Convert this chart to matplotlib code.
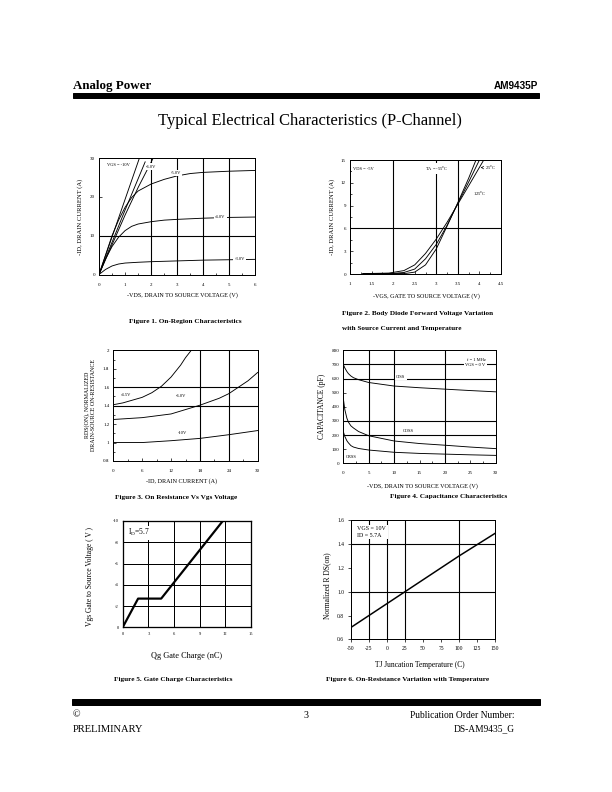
import numpy as np
import matplotlib
matplotlib.use("Agg")
import matplotlib.pyplot as plt
from matplotlib.ticker import MultipleLocator, FormatStrFormatter

plt.rcParams['font.family'] = ['Liberation Serif', 'DejaVu Serif']
plt.rcParams['mathtext.fontset'] = 'custom'
plt.rcParams['mathtext.rm'] = 'Liberation Serif'
plt.rcParams['axes.linewidth'] = 1.0
plt.rcParams['axes.unicode_minus'] = False

# ---- data ----
# Fig 1: on-region
vds = [0, 0.25, 0.5, 0.75, 1, 1.25, 1.5, 2, 2.5, 3, 3.5, 4, 5, 6]
id_3v = [0, 1.3, 2.2, 2.7, 2.95, 3.05, 3.15, 3.3, 3.4, 3.5, 3.6, 3.7, 3.8, 3.9]
id_4v = [0, 4, 7.2, 9.6, 11.3, 12.4, 13.0, 13.6, 14.0, 14.2, 14.35, 14.5, 14.7, 14.8]
id_5v = [0, 5, 10, 14, 17.3, 19.8, 21.5, 23.3, 24.5, 25.4, 26.0, 26.3, 26.6, 26.8]
vds_10v = [0, 1.55]
id_10v = [0, 30]
vds_8v = [0, 1.0, 1.77]
id_8v = [0, 16.6, 29.0]
vds_6v = [0, 1.0, 1.5, 2.08]
id_6v = [0, 15.3, 22.4, 30]

# Fig 2: transfer
vgs_m55 = [1.3, 2.0, 2.3, 2.5, 2.75, 3.0, 3.25, 3.5, 3.75, 3.92]
id_m55 = [0.05, 0.05, 0.08, 0.25, 1.2, 3.3, 6.3, 9.4, 12.6, 15]
vgs_25 = [1.3, 2.0, 2.25, 2.5, 2.75, 3.0, 3.25, 3.5, 3.75, 4.0]
id_25 = [0.05, 0.08, 0.2, 0.65, 2.0, 3.9, 6.4, 9.3, 12.1, 15]
vgs_125 = [1.3, 1.9, 2.25, 2.5, 2.75, 3.0, 3.25, 3.5, 3.75, 4.1]
id_125 = [0.05, 0.12, 0.45, 1.2, 2.7, 4.6, 6.8, 9.2, 11.6, 15]

# Fig 3: normalized on-resistance vs drain current
id_45 = [0, 2, 4, 6, 8, 10, 12, 14, 15, 16.2]
r_45 = [1.41, 1.43, 1.46, 1.49, 1.54, 1.61, 1.71, 1.84, 1.92, 2.0]
id_60 = [0, 6, 12, 18, 22, 24, 26, 28, 30]
r_60 = [1.25, 1.27, 1.31, 1.405, 1.48, 1.53, 1.6, 1.67, 1.76]
id_100 = [0, 6, 12, 18, 24, 30]
r_100 = [1.0, 1.0, 1.02, 1.045, 1.085, 1.13]

# Fig 4: capacitance
vds_c = [0, 0.3, 0.7, 1, 1.5, 2, 3, 5, 10, 15, 20, 25, 30]
ciss = [700, 675, 650, 635, 618, 606, 592, 572, 547, 535, 525, 515, 506]
coss = [460, 380, 320, 292, 265, 250, 225, 195, 158, 140, 128, 115, 104]
crss = [225, 190, 160, 145, 125, 115, 105, 94, 78, 70, 65, 60, 56]

# Fig 5: gate charge
qg = [0, 1.8, 4.5, 11.7]
vgs_q = [0, -2.7, -2.7, -10]

# Fig 6: on-resistance vs temperature
tj = [-50, 0, 25, 100, 150]
rds_t = [0.7, 0.9, 1.0, 1.3, 1.49]

W, H = 612, 792
fig = plt.figure(figsize=(W / 72, H / 72), dpi=72)


def add_ax(l, t, r, b):
    return fig.add_axes([l / W, 1 - b / H, (r - l) / W, (b - t) / H])


def ftext(x, y, s, **kw):
    kw.setdefault('ha', 'center')
    kw.setdefault('va', 'center')
    fig.text(x / W, 1 - y / H, s, **kw)


def style(ax, size=5, direction='in', xpad=8, ypad=4):
    ax.tick_params(which='both', direction=direction, width=0.7, labelsize=size)
    ax.tick_params(axis='x', pad=xpad)
    ax.tick_params(axis='y', pad=ypad)
    ax.tick_params(which='major', length=3)
    ax.tick_params(which='minor', length=2)


def label(ax, x, y, s, size=5, **kw):
    ax.text(x, y, s, fontsize=size, ha='center', va='center', zorder=5,
            bbox=dict(facecolor='white', edgecolor='none', pad=1.2), **kw)


GL = 1.1
box = dict(facecolor='white', edgecolor='none', pad=1.2)
CAP = 7.3
XL = 6.1
YL = 6.6

# ---- header ----
ftext(73, 86, 'Analog Power', ha='left', fontsize=13, fontweight='bold')
ftext(538, 86, 'AM9435P', ha='right', fontsize=10, fontweight='bold', family='Liberation Sans')
fig.patches.append(plt.Rectangle((73 / W, 1 - 97.5 / H), 466 / W, 5 / H,
                                 transform=fig.transFigure, color='black'))
ftext(310, 121, 'Typical Electrical Characteristics (P-Channel)', fontsize=16.5)

# ---- Figure 1 ----
ax = add_ax(99, 158, 255.5, 274.5)
for x in [2, 3, 4, 5]:
    ax.axvline(x, color='black', lw=GL)
ax.axhline(10, color='black', lw=GL)
for xs, ys in [(vds, id_3v), (vds, id_4v), (vds, id_5v), (vds_10v, id_10v),
               (vds_8v, id_8v), (vds_6v, id_6v)]:
    ax.plot(xs, ys, color='black', lw=0.9)
label(ax, 0.75, 28.3, 'VGS = -10V', size=4.5)
label(ax, 2.0, 27.8, '-6.0V', size=4.5)
label(ax, 2.95, 26.2, '-5.0V', size=4.5)
label(ax, 4.65, 14.8, '-4.0V', size=4.5)
label(ax, 5.4, 3.9, '-3.0V', size=4.5)
ax.set_xlim(0, 6)
ax.set_ylim(0, 30)
ax.set_xticks(range(0, 7))
ax.xaxis.set_minor_locator(MultipleLocator(0.5))
ax.set_yticks([0, 10, 20, 30])
style(ax)
ftext(182, 295, '-VDS, DRAIN TO SOURCE VOLTAGE (V)', fontsize=XL)
ftext(80, 217, '-ID, DRAIN CURRENT (A)', fontsize=YL, rotation=90)
ftext(185, 321, 'Figure 1. On-Region Characteristics', fontsize=CAP, fontweight='bold')

# ---- Figure 2 ----
ax = add_ax(350, 160, 501, 274)
for x in [2, 3, 3.5]:
    ax.axvline(x, color='black', lw=GL)
ax.axhline(6, color='black', lw=GL)
for xs, ys in [(vgs_m55, id_m55), (vgs_25, id_25), (vgs_125, id_125)]:
    ax.plot(xs, ys, color='black', lw=0.9)
label(ax, 1.32, 13.8, 'VDS = -5V', size=4.5)
label(ax, 3.0, 13.9, 'TA = -55$^{\\rm o}$C', size=4.5)
label(ax, 4.25, 14.0, '25$^{\\rm o}$C', size=4.5)
ax.annotate('', xy=(3.98, 14.0), xytext=(4.12, 14.0),
            arrowprops=dict(arrowstyle='->', lw=0.6, color='black'))
label(ax, 4.0, 10.6, '125$^{\\rm o}$C', size=4.5)
ax.set_xlim(1, 4.5)
ax.set_ylim(0, 15)
ax.set_xticks(np.arange(1, 4.51, 0.5))
ax.xaxis.set_major_formatter(FormatStrFormatter('%g'))
ax.xaxis.set_minor_locator(MultipleLocator(0.25))
ax.set_yticks(range(0, 16, 3))
ax.yaxis.set_minor_locator(MultipleLocator(1.5))
style(ax)
ftext(426, 296, '-VGS, GATE TO SOURCE VOLTAGE (V)', fontsize=XL)
ftext(332, 217, '-ID, DRAIN CURRENT (A)', fontsize=YL, rotation=90)
ftext(342, 314, 'Figure 2. Body Diode Forward Voltage Variation', ha='left',
      fontsize=CAP, fontweight='bold')
ftext(342, 328.5, 'with Source Current and Temperature', ha='left',
      fontsize=CAP, fontweight='bold')

# ---- Figure 3 ----
ax = add_ax(113.3, 350.3, 257.7, 461)
for x in [18, 24]:
    ax.axvline(x, color='black', lw=GL)
for y in [1.4, 1.6]:
    ax.axhline(y, color='black', lw=GL)
for xs, ys in [(id_45, r_45), (id_60, r_60), (id_100, r_100)]:
    ax.plot(xs, ys, color='black', lw=0.9)
label(ax, 2.6, 1.515, '-4.5V', size=4.5)
label(ax, 14.1, 1.51, '-6.0V', size=4.5)
label(ax, 14.4, 1.1, '-10V', size=4.5)
ax.set_xlim(0, 30)
ax.set_ylim(0.8, 2.0)
ax.set_xticks(range(0, 31, 6))
ax.xaxis.set_minor_locator(MultipleLocator(3))
ax.set_yticks(np.arange(0.8, 2.01, 0.2))
ax.yaxis.set_major_formatter(FormatStrFormatter('%g'))
ax.yaxis.set_minor_locator(MultipleLocator(0.1))
style(ax)
ftext(182, 481, '-ID, DRAIN CURRENT (A)', fontsize=XL)
ftext(90, 405, 'RDS(ON), NORMALIZED\nDRAIN-SOURCE ON-RESISTANCE', fontsize=6,
      rotation=90, linespacing=1.15)
ftext(176, 498, 'Figure 3. On Resistance Vs Vgs Voltage', fontsize=CAP, fontweight='bold')

# ---- Figure 4 ----
ax = add_ax(343.3, 350.3, 495.7, 463.3)
for x in [5, 10, 20]:
    ax.axvline(x, color='black', lw=GL)
for y in [200, 300, 600, 700]:
    ax.axhline(y, color='black', lw=GL)
for ys in [ciss, coss, crss]:
    ax.plot(vds_c, ys, color='black', lw=0.9)
label(ax, 11.3, 613, 'CISS', size=4.5)
label(ax, 12.8, 229, 'COSS', size=4.5)
label(ax, 1.5, 45, 'CRSS', size=4.5)
ax.text(28, 711, 'f = 1 MHz\nVGS = 0 V', fontsize=4.5, ha='right', va='center',
        linespacing=1.4, zorder=5, bbox=box)
ax.set_xlim(0, 30)
ax.set_ylim(0, 800)
ax.set_xticks(range(0, 31, 5))
ax.xaxis.set_minor_locator(MultipleLocator(2.5))
ax.set_yticks(range(0, 801, 100))
style(ax)
ftext(422, 486, '-VDS, DRAIN TO SOURCE VOLTAGE (V)', fontsize=XL)
ftext(322, 406, 'CAPACITANCE (pF)', fontsize=7.5, rotation=90)
ftext(449, 497, 'Figure 4. Capacitance Characteristics', fontsize=CAP, fontweight='bold')

# ---- Figure 5 ----
ax = add_ax(122.7, 521, 251, 627.3)
for x in [3, 6, 9, 12]:
    ax.axvline(x, color='black', lw=1.0)
for y in [-2, -4, -6, -8]:
    ax.axhline(y, color='black', lw=1.0)
ax.plot(qg, vgs_q, color='black', lw=2.2)
ax.text(0.6, -8.9, 'I$_{\\rm D}$=5.7', fontsize=7.5, ha='left', va='center',
        zorder=5, bbox=box)
ax.set_xlim(0, 15)
ax.set_ylim(0, -10)
ax.set_xticks(range(0, 16, 3))
ax.set_yticks(range(0, -11, -2))
for s in ax.spines.values():
    s.set_linewidth(1.3)
style(ax, size=4.5, xpad=5)
ftext(187, 656, 'Qg Gate Charge (nC)', fontsize=8.3)
ftext(90, 576, 'Vgs Gate to Source Voltage ( V )', fontsize=7.5, rotation=90)
ftext(173, 680, 'Figure 5. Gate Charge Characteristics', fontsize=CAP, fontweight='bold')

# ---- Figure 6 ----
ax = add_ax(351, 520.3, 495, 639.3)
for x in [-25, 0, 25, 100]:
    ax.axvline(x, color='black', lw=GL)
for y in [1.0, 1.4]:
    ax.axhline(y, color='black', lw=GL)
ax.plot(tj, rds_t, color='black', lw=1.5)
ax.text(-41, 1.5, 'VGS = 10V\nID = 5.7A', fontsize=6, ha='left', va='center',
        linespacing=1.5, zorder=5, bbox=box)
ax.set_xlim(-50, 150)
ax.set_ylim(0.6, 1.6)
ax.set_xticks(range(-50, 151, 25))
ax.set_yticks(np.arange(0.6, 1.61, 0.2))
ax.yaxis.set_major_formatter(FormatStrFormatter('%.1f'))
style(ax, size=5.5, direction='out', xpad=4)
ftext(420, 665, 'TJ Juncation Temperature (C)', fontsize=7.5)
ftext(327, 586, 'Normalized R DS(on)', fontsize=7.5, rotation=90)
ftext(408, 680, 'Figure 6. On-Resistance Variation with Temperature', fontsize=CAP,
      fontweight='bold')

# ---- footer ----
fig.patches.append(plt.Rectangle((72 / W, 1 - 705 / H), 468 / W, 6 / H,
                                 transform=fig.transFigure, color='black'))
ftext(73, 715, '\u00a9', ha='left', fontsize=10)
ftext(73, 729, 'PRELIMINARY', ha='left', fontsize=10.5)
ftext(306, 715, '3', fontsize=10)
ftext(515, 715, 'Publication Order Number:', ha='right', fontsize=9.5)
ftext(515, 729, 'DS-AM9435_G', ha='right', fontsize=9.5)

fig.savefig('out.png', dpi=72)
